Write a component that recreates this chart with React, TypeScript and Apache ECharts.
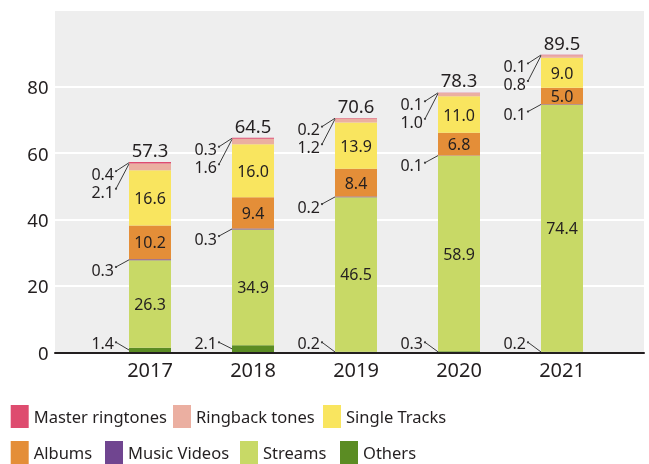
import React, { useEffect, useRef } from 'react';
import * as echarts from 'echarts';

const years = ['2017', '2018', '2019', '2020', '2021'];
const others = [1.4, 2.1, 0.2, 0.3, 0.2];
const streams = [26.3, 34.9, 46.5, 58.9, 74.4];
const musicVideos = [0.3, 0.3, 0.2, 0.1, 0.1];
const albums = [10.2, 9.4, 8.4, 6.8, 5.0];
const singleTracks = [16.6, 16.0, 13.9, 11.0, 9.0];
const ringbackTones = [2.1, 1.6, 1.2, 1.0, 0.8];
const masterRingtones = [0.4, 0.3, 0.2, 0.1, 0.1];
const totals = [57.3, 64.5, 70.6, 78.3, 89.5];
const yTickLabels = [0, 20, 40, 60, 80];

// legend layout: [name, left, top]
const legendNames = ['Master ringtones', 'Ringback tones', 'Single Tracks', 'Albums', 'Music Videos', 'Streams', 'Others'];
const legendLefts = [5.7, 168, 318, 5.7, 100, 235, 335];
const legendTops = [400, 400, 400, 436, 436, 436, 436];

const TEXT = '#231f20';
const FONT = 'Noto Sans';
const COLORS = {
  master: '#de4c6f',
  ringback: '#ebafa1',
  single: '#f9e55f',
  albums: '#e48e38',
  mv: '#704590',
  streams: '#c8d966',
  others: '#5b8c23',
};

export default function App() {
  const ref = useRef<HTMLDivElement>(null);

  useEffect(() => {
    if (!ref.current) return;
    const chart = echarts.init(ref.current, undefined, { renderer: 'svg' });

    const insideLabel = {
      show: true,
      position: 'inside',
      fontSize: 16,
      color: TEXT,
      fontFamily: FONT,
      formatter: (p: any) => Number(p.value).toFixed(1),
    };

    const barBase = {
      type: 'bar',
      stack: 'total',
      xAxisIndex: 2,
      yAxisIndex: 2,
      barWidth: 42,
    };

    const renderItem = (params: any, api: any) => {
      const i = params.dataIndex;
      const cx = api.coord([i, 0])[0];
      const left = cx - 21;
      const y = (v: number) => api.coord([i, v])[1];
      const oTop = others[i];
      const sTop = oTop + streams[i];
      const mvTop = sTop + musicVideos[i];
      const aTop = mvTop + albums[i];
      const stTop = aTop + singleTracks[i];
      const rTop = stTop + ringbackTones[i];
      const mMid = rTop + masterRingtones[i] / 2;
      const mvMid = sTop + musicVideos[i] / 2;
      const oMid = oTop / 2;

      const children: any[] = [];
      const addLeader = (label: string, ty: number, sy: number, ex: number, ey: number) => {
        children.push({
          type: 'text',
          style: {
            text: label,
            x: left - 15,
            y: ty,
            align: 'right',
            verticalAlign: 'middle',
            fill: TEXT,
            fontSize: 16,
            fontFamily: FONT,
          },
        });
        children.push({
          type: 'line',
          shape: { x1: left - 13, y1: sy, x2: ex, y2: ey },
          style: { stroke: '#3a3a3a', lineWidth: 1 },
        });
        children.push({
          type: 'circle',
          shape: { cx: left - 13, cy: sy, r: 1.1 },
          style: { fill: '#3a3a3a' },
        });
      };

      const mY = y(mMid) + 11;
      addLeader(masterRingtones[i].toFixed(1), mY, mY - 2.6, left, y(mMid));
      const rY = mY + 18;
      addLeader(ringbackTones[i].toFixed(1), rY, rY - 3, left, y(rTop) + 0.5);
      const mvY = y(mvMid) + 9.8;
      addLeader(musicVideos[i].toFixed(1), mvY, mvY - 2.7, left, y(mvMid));
      const oY = y(0) - 9.5;
      addLeader(others[i].toFixed(1), oY, oY - 0.5, left, y(oMid));

      children.push({
        type: 'text',
        style: {
          text: totals[i].toFixed(1),
          x: cx,
          y: y(totals[i]) - 12.5,
          align: 'center',
          verticalAlign: 'middle',
          fill: TEXT,
          fontSize: 18.5,
          fontFamily: FONT,
        },
      });
      return { type: 'group', children };
    };

    const legends = legendNames.map((name, k) => ({
      icon: 'rect',
      itemWidth: 18,
      itemHeight: 23,
      itemGap: 18,
      left: legendLefts[k],
      top: legendTops[k],
      selectedMode: false,
      data: [name],
      textStyle: { fontSize: 16.5, color: TEXT, fontFamily: FONT },
    }));

    chart.setOption({
      animation: false,
      textStyle: { fontFamily: FONT },
      legend: legends,
      grid: [
        { left: 55, right: 5, top: 11, bottom: 111.7, show: true, backgroundColor: '#eeeeee', borderWidth: 0, z: -1 },
        { left: 55, right: 5, top: 20.3, bottom: 111.7 },
        { left: 98.5, width: 515, top: 20.3, bottom: 111.7 },
      ],
      xAxis: [
        { gridIndex: 0, type: 'category', data: years, show: false },
        {
          gridIndex: 1,
          type: 'category',
          data: years,
          axisLine: { show: true, lineStyle: { color: TEXT, width: 2 } },
          axisTick: { show: false },
          axisLabel: { show: false },
          z: 5,
        },
        {
          gridIndex: 2,
          type: 'category',
          data: years,
          axisLine: { show: false },
          axisTick: { show: false },
          axisLabel: { fontSize: 20, color: TEXT, fontFamily: FONT, margin: 7 },
        },
      ],
      yAxis: [
        { gridIndex: 0, type: 'value', min: 0, max: 100, show: false },
        {
          gridIndex: 1,
          type: 'value',
          min: 0,
          max: 100,
          interval: 20,
          axisLine: { show: false },
          axisTick: { show: false },
          axisLabel: {
            fontSize: 18.5,
            color: TEXT,
            fontFamily: FONT,
            margin: 6.5,
            formatter: (v: number) => (yTickLabels.includes(v) ? String(v) : ''),
          },
          splitLine: { show: true, showMaxLine: false, lineStyle: { color: '#ffffff', width: 2 } },
        },
        { gridIndex: 2, type: 'value', min: 0, max: 100, show: false },
      ],
      series: [
        { ...barBase, name: 'Others', data: others, itemStyle: { color: COLORS.others } },
        { ...barBase, name: 'Streams', data: streams, itemStyle: { color: COLORS.streams }, label: insideLabel },
        { ...barBase, name: 'Music Videos', data: musicVideos, itemStyle: { color: COLORS.mv } },
        { ...barBase, name: 'Albums', data: albums, itemStyle: { color: COLORS.albums }, label: insideLabel },
        { ...barBase, name: 'Single Tracks', data: singleTracks, itemStyle: { color: COLORS.single }, label: insideLabel },
        { ...barBase, name: 'Ringback tones', data: ringbackTones, itemStyle: { color: COLORS.ringback } },
        { ...barBase, name: 'Master ringtones', data: masterRingtones, itemStyle: { color: COLORS.master } },
        {
          type: 'custom',
          name: 'annotations',
          xAxisIndex: 2,
          yAxisIndex: 2,
          clip: false,
          z: 10,
          silent: true,
          encode: { x: 0, y: 1 },
          data: years.map((_, i) => [i, totals[i]]),
          renderItem,
        },
      ],
    });

    return () => chart.dispose();
  }, []);

  return (
    <div
      ref={ref}
      style={{ position: 'fixed', left: 0, top: 0, width: 649, height: 464 }}
    />
  );
}
